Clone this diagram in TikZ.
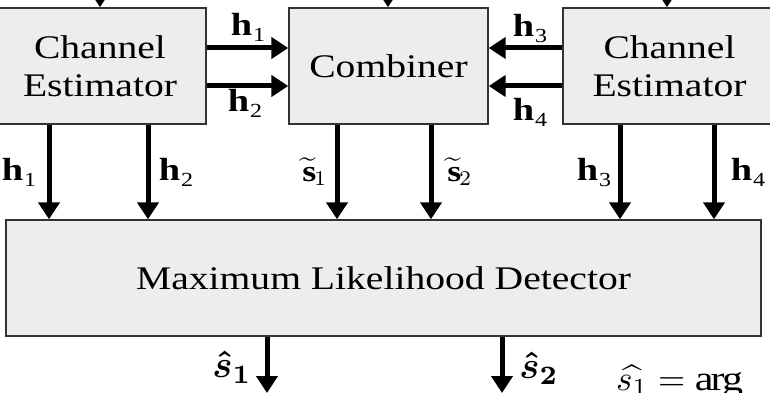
\RequirePackage{fix-cm}
\documentclass[tikz,border=0pt]{standalone}
\usepackage{amsmath}
\usepackage{graphicx}
\usepackage{fontspec}
\setmainfont[FakeStretch=1.2]{Liberation Serif}
\usetikzlibrary{arrows.meta}

\definecolor{boxfill}{HTML}{EDEDED}
\definecolor{boxline}{HTML}{333333}

\newcommand\hlab[1]{\textbf{h}\kern1pt\raisebox{-6pt}{\fontsize{20}{20}\selectfont #1}}
\newcommand\slab[1]{\scalebox{3}{$\widetilde{\mathbf{s}}_{#1}$}}
\newcommand\shat[1]{\scalebox{3.8}{\boldmath$\hat{s}_{#1}$}}

\tikzset{
  blockbox/.style={draw=boxline, line width=1.4pt, fill=boxfill, inner sep=0pt,
    align=center, font=\fontsize{33}{38}\selectfont},
  sigarrow/.style={line width=5pt, -{Triangle[width=21pt,length=17pt]}},
  siglabel/.style={inner sep=0pt, font=\fontsize{32}{32}\selectfont},
  mathlabel/.style={inner sep=0pt, font=\fontsize{10}{12}\selectfont},
}

\begin{document}
\begin{tikzpicture}[x=1pt, y=-1pt]
  \useasboundingbox (0,0) rectangle (770,393);
  \fill[white] (0,0) rectangle (770,393);
  \clip (0,0) rectangle (770,393);

  % blocks
  \node[blockbox, minimum width=212pt, minimum height=116pt] (ce1) at (100,66) {Channel\\Estimator};
  \node[blockbox, minimum width=199pt, minimum height=116pt] (comb) at (388.5,66) {Combiner};
  \node[blockbox, minimum width=213pt, minimum height=116pt] (ce2) at (669.5,66) {Channel\\Estimator};
  \node[blockbox, minimum width=755pt, minimum height=116pt] (ml) at (383.5,278) {Maximum Likelihood Detector};

  % received-signal inputs entering from above
  \coordinate (in1) at (100,-30);
  \coordinate (in2) at (388,-30);
  \coordinate (in3) at (667,-30);
  \draw[sigarrow] (in1) -- (in1 |- ce1.north);
  \draw[sigarrow] (in2) -- (in2 |- comb.north);
  \draw[sigarrow] (in3) -- (in3 |- ce2.north);

  % channel estimates passed to the combiner
  \draw[sigarrow] ([yshift=18pt]ce1.east) -- ([yshift=18pt]ce1.east -| comb.west);
  \draw[sigarrow] ([yshift=-20pt]ce1.east) -- ([yshift=-20pt]ce1.east -| comb.west);
  \draw[sigarrow] ([yshift=18pt]ce2.west) -- ([yshift=18pt]ce2.west -| comb.east);
  \draw[sigarrow] ([yshift=-20pt]ce2.west) -- ([yshift=-20pt]ce2.west -| comb.east);
  \node[siglabel] (lh1) at (248,27) {\hlab{1}};
  \node[siglabel] (lh2) at (245,103) {\hlab{2}};
  \node[siglabel] (lh3) at (530,28) {\hlab{3}};
  \node[siglabel] (lh4) at (530,112) {\hlab{4}};

  % inputs of the detector
  \foreach \xx/\src in {49/ce1, 148/ce1, 337/comb, 431/comb, 620/ce2, 714/ce2}
    \draw[sigarrow] (\src.south -| \xx,0) -- (ml.north -| \xx,0);
  \node[siglabel] (dh1) at (19,172) {\hlab{1}};
  \node[siglabel] (dh2) at (176,172) {\hlab{2}};
  \node[mathlabel] (ds1) at (315,172) {\slab{1}};
  \node[mathlabel] (ds2) at (460,172) {\slab{2}};
  \node[siglabel] (dh3) at (594,172) {\hlab{3}};
  \node[siglabel] (dh4) at (748,172) {\hlab{4}};

  % decisions
  \coordinate (out1) at (267,393);
  \coordinate (out2) at (502,393);
  \draw[sigarrow] (ml.south -| out1) -- (out1);
  \draw[sigarrow] (ml.south -| out2) -- (out2);
  \node[mathlabel] (ls1) at (232,367) {\shat{1}};
  \node[mathlabel] (ls2) at (539,368) {\shat{2}};
  \node[mathlabel, anchor=base west] (rule) at (616,390)
    {\scalebox{3.5}{$\widehat{s_1} = \arg$}};
\end{tikzpicture}
\end{document}
